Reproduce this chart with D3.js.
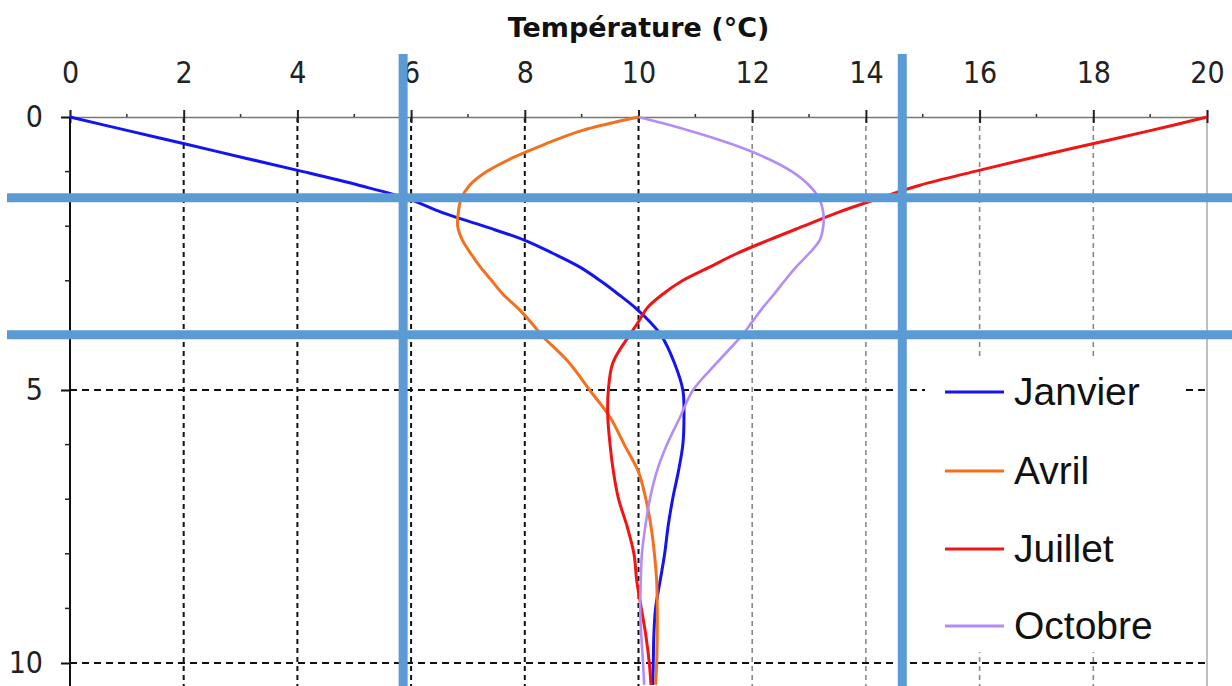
<!DOCTYPE html>
<html>
<head>
<meta charset="utf-8">
<script src="https://cdn.jsdelivr.net/npm/d3@7"></script>
<style>
  html, body { margin: 0; padding: 0; background: #fff; }
  svg { display: block; }
</style>
</head>
<body>
<svg id="chart" width="1232" height="686"></svg>
<script>
// ---- Data ----
const depths = [0, 0.25, 0.5, 0.75, 1, 1.25, 1.5, 1.75, 2, 2.25, 2.5, 2.75, 3, 3.25, 3.5, 3.75, 4, 4.5, 5, 5.5, 6, 6.5, 7, 7.5, 8, 8.5, 9, 9.5, 10, 10.4];
const janvier = [0, 1.02, 2.05, 3.07, 4.1, 5.08, 5.95, 6.55, 7.28, 7.98, 8.5, 8.97, 9.33, 9.65, 9.95, 10.2, 10.4, 10.63, 10.78, 10.8, 10.78, 10.7, 10.6, 10.52, 10.46, 10.38, 10.3, 10.27, 10.26, 10.25];
const avril   = [10, 9.0, 8.35, 7.78, 7.33, 7.03, 6.88, 6.83, 6.82, 6.9, 7.05, 7.22, 7.42, 7.62, 7.88, 8.1, 8.3, 8.78, 9.14, 9.5, 9.75, 10.0, 10.13, 10.22, 10.28, 10.32, 10.33, 10.33, 10.32, 10.3];
const juillet = [20, 19.0, 17.95, 16.9, 15.9, 14.95, 14.2, 13.5, 12.9, 12.3, 11.73, 11.25, 10.77, 10.42, 10.15, 10.0, 9.84, 9.55, 9.47, 9.46, 9.5, 9.56, 9.65, 9.8, 9.92, 9.97, 10.05, 10.13, 10.19, 10.22];
const octobre = [10, 10.9, 11.65, 12.25, 12.7, 13.0, 13.18, 13.25, 13.25, 13.19, 13.0, 12.77, 12.57, 12.38, 12.18, 12.0, 11.82, 11.38, 10.96, 10.73, 10.5, 10.32, 10.2, 10.12, 10.06, 10.04, 10.03, 10.05, 10.08, 10.1];

const seriesNames = ["Janvier", "Avril", "Juillet", "Octobre"];
const seriesValues = [janvier, avril, juillet, octobre];
const seriesColors = ["#1414f0", "#f5701c", "#f01414", "#b48cf8"];

const xTicks = [0, 2, 4, 6, 8, 10, 12, 14, 16, 18, 20];
const xMinorTicks = [1, 3, 5, 7, 9, 11, 13, 15, 17, 19];
const yTicks = [0, 5, 10];
const yMinorTicks = [1, 2, 3, 4, 6, 7, 8, 9];

// annotation lines (thick blue) in data units
const markTemps = [5.86, 14.64];
const markDepths = [1.48, 3.99];

const title = "Température (°C)";

// ---- Layout ----
const W = 1232, H = 686;
const svg = d3.select("#chart");

const x = d3.scaleLinear().domain([0, 20]).range([70, 1207]);
const y = d3.scaleLinear().domain([0, 10]).range([117, 663]);
const bottom = H;
const tickFont = "'Liberation Sans Narrow', 'Arial Narrow', 'DejaVu Sans Condensed', sans-serif";

// grid: vertical dashed
const gGrid = svg.append("g");
gGrid.selectAll("line.vg").data(xTicks.filter(d => d > 0 && d < 20)).enter().append("line")
  .attr("x1", d => x(d)).attr("x2", d => x(d))
  .attr("y1", y(0)).attr("y2", bottom)
  .attr("stroke", d => d <= 10 ? "#111" : "#888")
  .attr("stroke-width", d => d <= 10 ? 2 : 1.6)
  .attr("stroke-dasharray", "5,4");

// horizontal dashed
gGrid.selectAll("line.hg").data(yTicks.filter(d => d > 0)).enter().append("line")
  .attr("x1", x(0)).attr("x2", x(20))
  .attr("y1", d => y(d)).attr("y2", d => y(d))
  .attr("stroke", "#111").attr("stroke-width", 2)
  .attr("stroke-dasharray", "7,5");

// right border
svg.append("line")
  .attr("x1", x(20)).attr("x2", x(20)).attr("y1", y(0)).attr("y2", bottom)
  .attr("stroke", "#aaa").attr("stroke-width", 1.5);

// top x axis
const xAxis = d3.axisTop(x).tickValues(xTicks).tickSize(7).tickPadding(27).tickFormat(d3.format("d"));
const gx = svg.append("g").attr("transform", `translate(0,${y(0)})`).call(xAxis);
gx.select(".domain").attr("stroke", "#777").attr("stroke-width", 1.5);
gx.selectAll(".tick line").attr("stroke", "#222").attr("stroke-width", 2).attr("y2", -7);
gx.selectAll(".tick").append("line").attr("y1", 0).attr("y2", 6).attr("stroke", "#222").attr("stroke-width", 2);
gx.selectAll(".tick text")
  .attr("font-family", tickFont)
  .attr("font-size", 30).attr("fill", "#222");
// minor x ticks
svg.append("g").selectAll("line").data(xMinorTicks).enter().append("line")
  .attr("x1", d => x(d)).attr("x2", d => x(d))
  .attr("y1", y(0) - 3).attr("y2", y(0))
  .attr("stroke", "#333").attr("stroke-width", 1.5);

// left y axis
const yAxis = d3.axisLeft(y).tickValues(yTicks).tickSize(9).tickPadding(18).tickFormat(d3.format("d"));
const gy = svg.append("g").attr("transform", `translate(${x(0)},0)`).call(yAxis);
gy.select(".domain").remove();
gy.selectAll(".tick line").attr("stroke", "#111").attr("stroke-width", 2);
gy.selectAll(".tick text")
  .attr("font-family", tickFont)
  .attr("font-size", 30).attr("fill", "#222");
svg.append("line")
  .attr("x1", x(0)).attr("x2", x(0)).attr("y1", y(0)).attr("y2", bottom)
  .attr("stroke", "#111").attr("stroke-width", 2);
svg.append("g").selectAll("line").data(yMinorTicks).enter().append("line")
  .attr("x1", x(0) - 5).attr("x2", x(0))
  .attr("y1", d => y(d)).attr("y2", d => y(d))
  .attr("stroke", "#222").attr("stroke-width", 1.5);

// title
svg.append("text")
  .attr("x", x(10)).attr("y", 37)
  .attr("text-anchor", "middle")
  .attr("font-family", "'DejaVu Sans', sans-serif")
  .attr("font-weight", "bold").attr("font-size", 27).attr("fill", "#111")
  .text(title);

// legend background
const lg = svg.append("g");
lg.append("rect").attr("x", 925).attr("y", 356).attr("width", 258).attr("height", 296).attr("fill", "#fff");

// series lines
const line = d3.line()
  .x(d => x(d[0]))
  .y(d => y(d[1]))
  .curve(d3.curveCatmullRom.alpha(0.5));

const gLines = svg.append("g");
seriesValues.forEach((vals, i) => {
  const pts = vals.map((t, k) => [t, depths[k]]);
  gLines.append("path")
    .datum(pts)
    .attr("d", line)
    .attr("fill", "none")
    .attr("stroke", seriesColors[i])
    .attr("stroke-width", i === 3 ? 2.6 : 3)
    .attr("stroke-linejoin", "round");
});

// legend items
const legendY = [392, 471, 549, 626];
seriesNames.forEach((name, i) => {
  lg.append("line")
    .attr("x1", 945).attr("x2", 1004)
    .attr("y1", legendY[i]).attr("y2", legendY[i])
    .attr("stroke", seriesColors[i]).attr("stroke-width", 3);
  lg.append("text")
    .attr("x", 1014).attr("y", legendY[i] + 13)
    .attr("font-family", "'Liberation Sans', Arial, sans-serif")
    .attr("font-size", 39).attr("fill", "#111")
    .text(name);
});

// thick annotation lines
const markColor = "#5b9bd5";
svg.append("g").selectAll("line").data(markDepths).enter().append("line")
  .attr("x1", 7).attr("x2", W)
  .attr("y1", d => y(d)).attr("y2", d => y(d))
  .attr("stroke", markColor).attr("stroke-width", 9);
svg.append("g").selectAll("line").data(markTemps).enter().append("line")
  .attr("x1", d => x(d)).attr("x2", d => x(d))
  .attr("y1", 54).attr("y2", H)
  .attr("stroke", markColor).attr("stroke-width", 9);
</script>
</body>
</html>
